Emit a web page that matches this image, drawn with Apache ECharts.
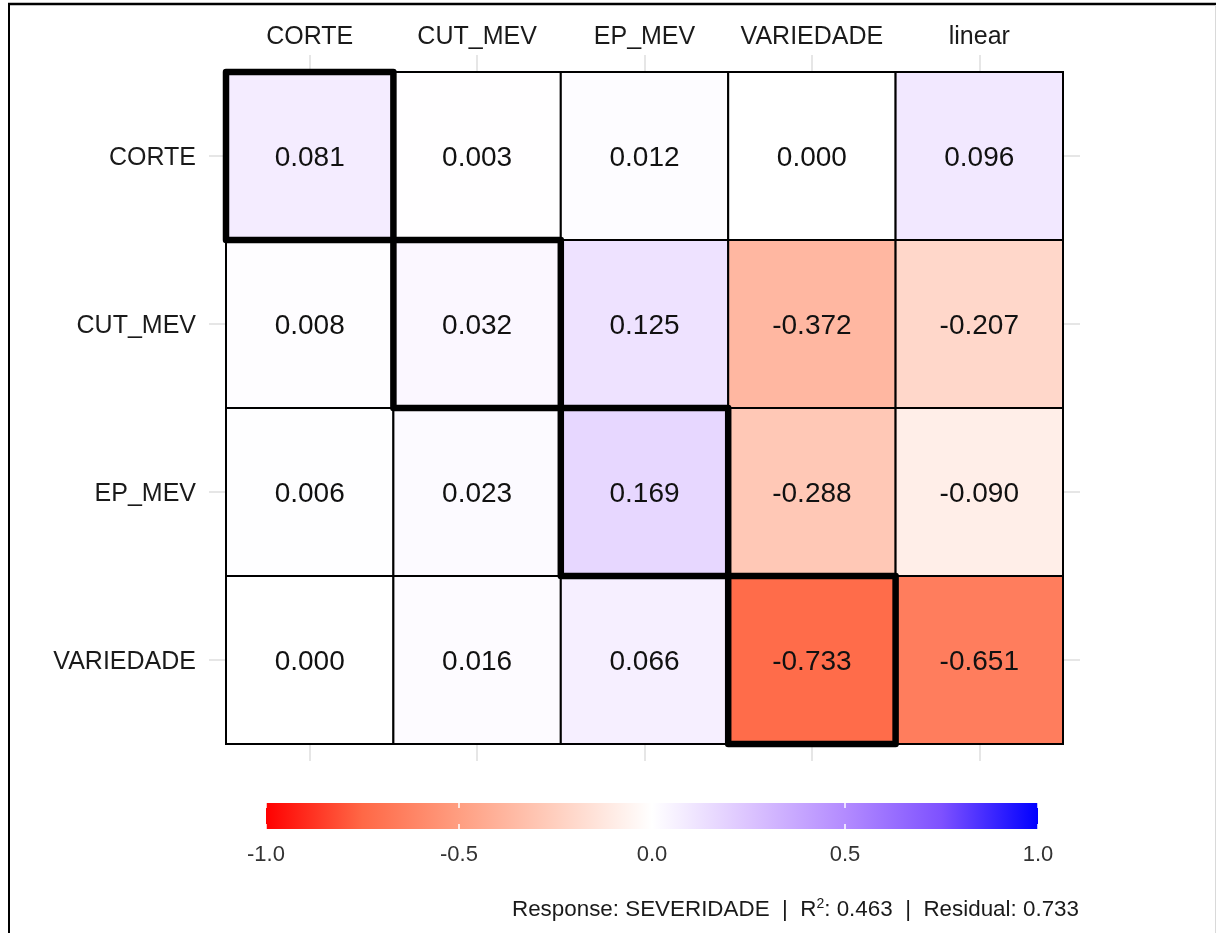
<!DOCTYPE html>
<html>
<head>
<meta charset="utf-8">
<script src="https://cdn.jsdelivr.net/npm/echarts@6/dist/echarts.min.js"></script>
<style>html,body{margin:0;padding:0;background:#fff;}#c{width:1216px;height:933px;}</style>
</head>
<body>
<div id="c"></div>
<script>
// ---- data ----
const columns = ['CORTE', 'CUT_MEV', 'EP_MEV', 'VARIEDADE', 'linear'];
const rows = ['CORTE', 'CUT_MEV', 'EP_MEV', 'VARIEDADE'];
const rowCORTE     = [0.081, 0.003, 0.012, 0.000, 0.096];
const rowCUT_MEV   = [0.008, 0.032, 0.125, -0.372, -0.207];
const rowEP_MEV    = [0.006, 0.023, 0.169, -0.288, -0.090];
const rowVARIEDADE = [0.000, 0.016, 0.066, -0.733, -0.651];
const legendTicks = [-1.0, -0.5, 0.0, 0.5, 1.0];
const r2 = '0.463';
const residual = '0.733';
const response = 'SEVERIDADE';

const matrix = [rowCORTE, rowCUT_MEV, rowEP_MEV, rowVARIEDADE];
const cellData = [];
matrix.forEach((r, ri) => r.forEach((v, ci) => cellData.push([ci, ri, v])));
const diagData = rows.map((_, i) => [i, i]);
const scaleColors = ['#ff0000', '#ff6846', '#ff9e81', '#ffcfbf', '#ffffff', '#dcc4ff', '#b38bff', '#7e51ff', '#0000ff'];

const FONT = 'Liberation Sans, Arial, sans-serif';
const gridTickColor = '#e6e6e6';

const chart = echarts.init(document.getElementById('c'), null, {renderer: 'canvas'});
chart.setOption({
  backgroundColor: '#fff',
  animation: false,
  title: {
    right: 132, top: 892,
    text: '{a|Response: ' + response + '  |  R}{s|2}{a|: ' + r2 + '  |  Residual: ' + residual + '}',
    textStyle: {
      fontWeight: 'normal',
      rich: {
        a: {fontSize: 22.4, fontFamily: FONT, fontWeight: 'normal', color: '#1a1a1a', lineHeight: 26},
        s: {fontSize: 14, fontFamily: FONT, fontWeight: 'normal', color: '#1a1a1a', verticalAlign: 'top', lineHeight: 26, padding: [0, 0, 10, 0]}
      }
    }
  },
  grid: [
    {left: 226, right: 153, top: 72, bottom: 189},
    {left: 266, top: 803, width: 772, height: 26}
  ],
  xAxis: [
    {gridIndex: 0, type: 'category', data: columns, position: 'top', boundaryGap: true,
     axisLine: {show: false},
     axisTick: {show: true, alignWithLabel: true, interval: 0, length: 17, lineStyle: {color: gridTickColor, width: 2}},
     axisLabel: {interval: 0, margin: 22, fontSize: 25, fontFamily: FONT, color: '#1a1a1a'},
     splitLine: {show: false}},
    {gridIndex: 0, type: 'category', data: columns, position: 'bottom', boundaryGap: true,
     axisLine: {show: false},
     axisTick: {show: true, alignWithLabel: true, interval: 0, length: 17, lineStyle: {color: gridTickColor, width: 2}},
     axisLabel: {show: false}, splitLine: {show: false}},
    {gridIndex: 1, type: 'value', min: -1, max: 1, interval: 0.5, position: 'bottom', z: 10,
     axisLine: {show: false},
     axisTick: {show: true, inside: true, length: 5, lineStyle: {color: '#ffffff', width: 1.5}},
     axisLabel: {margin: 15, fontSize: 22, fontFamily: FONT, color: '#333',
       formatter: v => legendTicks.includes(v) ? v.toFixed(1) : ''},
     splitLine: {show: false}},
    {gridIndex: 1, type: 'value', min: -1, max: 1, interval: 0.5, position: 'top', z: 10,
     axisLine: {show: false},
     axisTick: {show: true, inside: true, length: 5, lineStyle: {color: '#ffffff', width: 1.5}},
     axisLabel: {show: false}, splitLine: {show: false}}
  ],
  yAxis: [
    {gridIndex: 0, type: 'category', data: rows, inverse: true, position: 'left', boundaryGap: true,
     axisLine: {show: false},
     axisTick: {show: true, alignWithLabel: true, interval: 0, length: 17, lineStyle: {color: gridTickColor, width: 2}},
     axisLabel: {interval: 0, margin: 30, fontSize: 25, fontFamily: FONT, color: '#1a1a1a',
       verticalAlign: 'top', lineHeight: 25, padding: [-10, 0, 0, 0]},
     splitLine: {show: false}},
    {gridIndex: 0, type: 'category', data: rows, inverse: true, position: 'right', boundaryGap: true,
     axisLine: {show: false},
     axisTick: {show: true, alignWithLabel: true, interval: 0, length: 17, lineStyle: {color: gridTickColor, width: 2}},
     axisLabel: {show: false}, splitLine: {show: false}},
    {gridIndex: 1, type: 'value', show: false, min: 0, max: 1}
  ],
  visualMap: {
    show: false,
    type: 'continuous', min: -1, max: 1, seriesIndex: 0,
    inRange: {color: scaleColors}
  },
  series: [
    {
      type: 'custom', xAxisIndex: 0, yAxisIndex: 0, z: 2,
      encode: {x: 0, y: 1},
      data: cellData,
      renderItem: function (params, api) {
        const c = api.coord([api.value(0), api.value(1)]);
        const s = api.size([1, 1]);
        return {
          type: 'group',
          children: [
            {type: 'rect', shape: {x: c[0] - s[0] / 2, y: c[1] - s[1] / 2, width: s[0], height: s[1]},
             style: {fill: api.visual('color'), stroke: '#000', lineWidth: 2}},
            {type: 'text', z2: 5, style: {text: api.value(2).toFixed(3), x: c[0], y: c[1] + 2,
              align: 'center', verticalAlign: 'middle', fontSize: 28, fontFamily: FONT, fill: '#111'}}
          ]
        };
      }
    },
    {
      type: 'custom', xAxisIndex: 0, yAxisIndex: 0, z: 5,
      encode: {x: 0, y: 1},
      data: diagData,
      renderItem: function (params, api) {
        const c = api.coord([api.value(0), api.value(1)]);
        const s = api.size([1, 1]);
        return {type: 'rect', shape: {x: c[0] - s[0] / 2, y: c[1] - s[1] / 2, width: s[0], height: s[1]},
          style: {fill: 'none', stroke: '#000', lineWidth: 6.5, lineJoin: 'round'}};
      }
    },
    {
      // colour bar legend drawn on the legend grid's own value scale
      type: 'custom', xAxisIndex: 2, yAxisIndex: 2, z: 3, silent: true,
      data: [[legendTicks[0], legendTicks[legendTicks.length - 1]]],
      encode: {x: [0, 1]},
      renderItem: function (params, api) {
        const p0 = api.coord([api.value(0), 0]);
        const p1 = api.coord([api.value(1), 1]);
        const stops = scaleColors.map((c, i) => ({offset: i / (scaleColors.length - 1), color: c}));
        return {type: 'rect', shape: {x: p0[0], y: p1[1], width: p1[0] - p0[0], height: p0[1] - p1[1]},
          style: {fill: new echarts.graphic.LinearGradient(0, 0, 1, 0, stops)}};
      }
    }
  ],
  graphic: [
    {type: 'line', shape: {x1: 8, y1: 4, x2: 1216, y2: 4}, style: {stroke: '#000', lineWidth: 2.5}},
    {type: 'line', shape: {x1: 9, y1: 3, x2: 9, y2: 933}, style: {stroke: '#000', lineWidth: 2}},
    {type: 'line', shape: {x1: 1215.5, y1: 5, x2: 1215.5, y2: 933}, style: {stroke: '#d9d9d9', lineWidth: 1}}
  ]
});
</script>
</body>
</html>
